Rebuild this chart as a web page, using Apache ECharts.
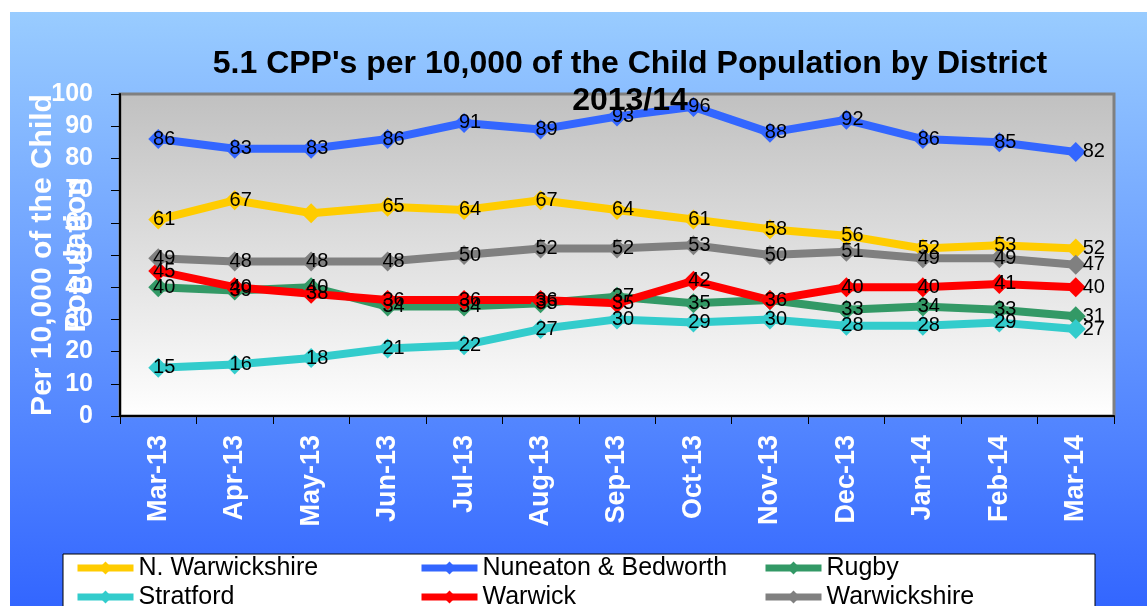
<!DOCTYPE html>
<html>
<head>
<meta charset="utf-8">
<title>CPP's per 10,000 of the Child Population by District</title>
<script src="https://cdn.jsdelivr.net/npm/echarts@6/dist/echarts.min.js"></script>
<style>
  html, body { margin: 0; padding: 0; background: #fff; }
  #main { width: 1147px; height: 606px; }
</style>
</head>
<body>
<div id="main"></div>
<script>
// data
const months = ['Mar-13', 'Apr-13', 'May-13', 'Jun-13', 'Jul-13', 'Aug-13', 'Sep-13',
  'Oct-13', 'Nov-13', 'Dec-13', 'Jan-14', 'Feb-14', 'Mar-14']
const nWarwickshire = [61, 67, 63, 65, 64, 67, 64, 61, 58, 56, 52, 53, 52]
const nuneaton = [86, 83, 83, 86, 91, 89, 93, 96, 88, 92, 86, 85, 82]
const rugby = [40, 39, 40, 34, 34, 35, 37, 35, 36, 33, 34, 33, 31]
const stratford = [15, 16, 18, 21, 22, 27, 30, 29, 30, 28, 28, 29, 27]
const warwick = [45, 40, 38, 36, 36, 36, 35, 42, 36, 40, 40, 41, 40]
const warwickshire = [49, 48, 48, 48, 50, 52, 52, 53, 50, 51, 49, 49, 47]

const font = 'Liberation Sans, Arial, sans-serif'

// name, values, colour, labels that are hidden in the original
const seriesDefs = [
  ['N. Warwickshire', nWarwickshire, '#ffcc00', [2]],
  ['Nuneaton & Bedworth', nuneaton, '#3366ff', []],
  ['Rugby', rugby, '#339966', [8]],
  ['Stratford', stratford, '#33cccc', []],
  ['Warwick', warwick, '#ff0000', []],
  ['Warwickshire', warwickshire, '#808080', []]
]

// legend slots: name, left, top
const legendSlots = [
  ['N. Warwickshire', 74, 554],
  ['Nuneaton & Bedworth', 418, 554],
  ['Rugby', 762, 554],
  ['Stratford', 74, 583],
  ['Warwick', 418, 583],
  ['Warwickshire', 762, 583]
]

const chart = echarts.init(document.getElementById('main'))

const series = seriesDefs.map(([name, values, color, hidden]) => {
  return {
    name: name,
    type: 'line',
    symbol: 'diamond',
    symbolSize: 20,
    itemStyle: { color: color },
    lineStyle: { color: color, width: 8 },
    label: {
      show: true,
      position: 'inside',
      offset: [6, 0],
      color: '#000',
      fontSize: 20,
      fontFamily: font
    },
    data: values.map((v, i) => {
      const item = { value: v }
      if (hidden.indexOf(i) >= 0) item.label = { show: false }
      if (i === values.length - 1) item.label = { offset: [18, 0] }
      return item
    })
  }
})

const legends = legendSlots.map(([name, left, top]) => {
  return {
    data: [name],
    left: left,
    top: top,
    padding: 0,
    itemWidth: 56,
    itemHeight: 16,
    lineStyle: { width: 7 },
    textStyle: { color: '#000', fontSize: 25, fontFamily: font, lineHeight: 28 }
  }
})

const option = {
  backgroundColor: {
    type: 'linear', x: 0, y: 0, x2: 0, y2: 1,
    colorStops: [{ offset: 0.02, color: '#99ccff' }, { offset: 1, color: '#3366ff' }]
  },
  animation: false,
  title: {
    text: "5.1 CPP's per 10,000 of the Child Population by District\n2013/14",
    left: 625,
    top: 41,
    textAlign: 'center',
    textStyle: {
      color: '#000',
      fontSize: 32,
      fontWeight: 'bold',
      fontFamily: font,
      lineHeight: 37
    }
  },
  graphic: [
    { type: 'rect', shape: { x: 0, y: 0, width: 1147, height: 12 }, style: { fill: '#fff' } },
    { type: 'rect', shape: { x: 0, y: 0, width: 10, height: 606 }, style: { fill: '#fff' } },
    {
      type: 'rect',
      shape: { x: 63, y: 554, width: 1032, height: 60 },
      style: { fill: '#fff', stroke: '#000', lineWidth: 1 }
    }
  ],
  legend: legends,
  grid: {
    left: 120,
    top: 94,
    right: 33,
    bottom: 190,
    outerBoundsMode: 'none',
    show: true,
    borderColor: '#808080',
    borderWidth: 3,
    backgroundColor: {
      type: 'linear', x: 0, y: 0, x2: 0, y2: 1,
      colorStops: [{ offset: 0, color: '#c0c0c0' }, { offset: 1, color: '#ffffff' }]
    }
  },
  xAxis: {
    type: 'category',
    data: months,
    boundaryGap: true,
    axisLine: { lineStyle: { color: '#000', width: 2 } },
    axisTick: { show: true, length: 8, lineStyle: { color: '#000' } },
    axisLabel: {
      rotate: 90,
      margin: 19,
      color: '#fff',
      fontSize: 27,
      fontWeight: 'bold',
      fontFamily: font
    }
  },
  yAxis: {
    type: 'value',
    min: 0,
    max: 100,
    interval: 10,
    name: 'Per 10,000 of the Child\nPopulation',
    nameLocation: 'middle',
    nameRotate: 90,
    nameGap: 26,
    nameMoveOverlap: false,
    nameTextStyle: {
      color: '#fff',
      fontSize: 30,
      fontWeight: 'bold',
      fontFamily: font,
      lineHeight: 34
    },
    splitLine: { show: false },
    axisLine: { show: true, lineStyle: { color: '#000', width: 2 } },
    axisTick: { show: true, length: 9, lineStyle: { color: '#000' } },
    axisLabel: {
      margin: 27,
      color: '#fff',
      fontSize: 25,
      fontWeight: 'bold',
      fontFamily: font
    }
  },
  series: series
}

chart.setOption(option)
</script>
</body>
</html>
